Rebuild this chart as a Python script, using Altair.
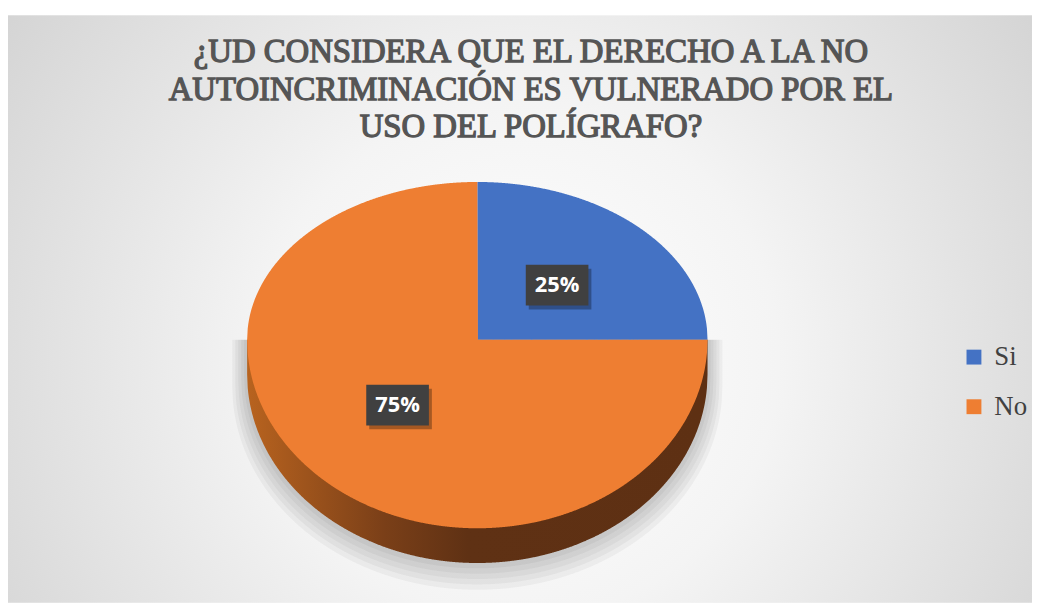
import altair as alt
import numpy as np
import pandas as pd

# ---- data ----
categories = ["Si", "No"]
values = [25, 75]
slice_colors = ["#4472C4", "#EE7E32"]
title_lines = ["¿UD CONSIDERA QUE EL DERECHO A LA NO",
               "AUTOINCRIMINACIÓN ES VULNERADO POR EL",
               "USO DEL POLÍGRAFO?"]

# ---- geometry / style ----
W, H = 1032, 597
CX, CY = 473, 332          # pie centre inside view (px)
RX, RY_TOP, RY_BOT = 232, 159, 190
DEPTH = 35

total = float(sum(values))
shares = [v / total for v in values]
cum = np.cumsum([0] + shares)

def vscale(v):
    return v * RY_TOP if v >= 0 else v * RY_BOT

# top faces of slices, as vertical intervals per x column
us = np.linspace(-1, 1, 801)
face_layers = []
for i, cat in enumerate(categories):
    a_start = 90 - 360 * cum[i]
    span = 360 * shares[i]
    rows = []
    for k, u in enumerate(us):
        h = float(np.sqrt(max(0.0, 1 - u * u)))
        vv = np.linspace(-h, h, 1201)
        ang = np.degrees(np.arctan2(vv, np.full_like(vv, u)))
        inside = np.mod(a_start - ang, 360) <= span + 1e-9
        if not inside.any():
            continue
        sel = vv[inside]
        rows.append({"cat": cat, "x": float(u * RX), "y": vscale(float(sel.max())),
                     "y2": vscale(float(sel.min()))})
    face_layers.append(pd.DataFrame(rows))
faces = pd.concat(face_layers, ignore_index=True)

# side (depth) of the pie
side = pd.DataFrame({"x": us * RX,
                     "y": -np.sqrt(np.clip(1 - us ** 2, 0, None)) * RY_BOT - DEPTH,
                     "y2": 0.0})

# soft shadow
shadow_rows = []
for j, d in enumerate([3, 6, 9, 12, 15]):
    for u in us:
        shadow_rows.append({"g": j, "x": float(u * (RX + d)),
                            "y": float(-np.sqrt(max(0.0, 1 - u * u)) * (RY_BOT + d) - DEPTH - d * 0.8),
                            "y2": 0.0})
shadow = pd.DataFrame(shadow_rows)

# labels
lab_rows = []
for i, cat in enumerate(categories):
    mid = np.radians(90 - 360 * (cum[i] + shares[i] / 2))
    r = 0.49
    xx = r * np.cos(mid) * RX
    yv = r * np.sin(mid)
    yy = yv * (RY_TOP if yv >= 0 else RY_BOT)
    lab_rows.append({"cat": cat, "x": float(xx), "y": float(yy),
                     "label": f"{round(shares[i] * 100)}%"})
labels = pd.DataFrame(lab_rows)

xs = alt.Scale(domain=[-CX, W - CX], nice=False, zero=False)
ys = alt.Scale(domain=[-(H - CY), CY], nice=False, zero=False)
X = lambda: alt.X("x:Q", scale=xs, axis=None)
Y = lambda: alt.Y("y:Q", scale=ys, axis=None, stack=None)

bg = alt.Chart(pd.DataFrame({"a": [0]})).mark_rect(
    color=alt.Gradient(gradient="radial", x1=0.5, y1=0.55, x2=0.5, y2=0.55,
                       r1=0, r2=0.72,
                       stops=[alt.GradientStop(color="#ffffff", offset=0),
                              alt.GradientStop(color="#f4f4f4", offset=0.35),
                              alt.GradientStop(color="#cacaca", offset=1)])
).encode(x=alt.value(0), x2=alt.value(W), y=alt.value(5), y2=alt.value(H))

title = alt.Chart(pd.DataFrame({"a": [0]})).mark_text(
    text=title_lines, font="Liberation Serif", fontWeight="normal",
    fontSize=33, color="#555555", stroke="#555555", strokeWidth=1.3,
    align="center", baseline="top", lineHeight=38
).encode(x=alt.value(527), y=alt.value(26))

shadow_l = alt.Chart(shadow).mark_area(color="#000000", opacity=0.04).encode(
    x=X(), y=Y(), y2="y2:Q", detail="g:N")

side_l = alt.Chart(side).mark_area(
    color=alt.Gradient(gradient="linear", x1=0, y1=0, x2=1, y2=0,
                       stops=[alt.GradientStop(color="#B8631F", offset=0),
                              alt.GradientStop(color="#7A3F18", offset=0.3),
                              alt.GradientStop(color="#5F3114", offset=0.48),
                              alt.GradientStop(color="#5E3013", offset=1)])
).encode(x=X(), y=Y(), y2="y2:Q")

faces_l = alt.Chart(faces).mark_area(opacity=1).encode(
    x=X(), y=Y(), y2="y2:Q",
    color=alt.Color("cat:N", scale=alt.Scale(domain=categories, range=slice_colors),
                    legend=alt.Legend(orient="none", legendX=960, legendY=336,
                                      title=None, symbolType="square", symbolSize=225,
                                      symbolStrokeWidth=0, symbolOpacity=1,
                                      labelFont="Liberation Serif", labelFontSize=27,
                                      labelColor="#404040", rowPadding=22,
                                      labelOffset=7, padding=0))
)

box_path = "M-1.54,-1L1.54,-1L1.54,1L-1.54,1Z"
box_shadow = alt.Chart(labels).mark_point(
    shape=box_path, filled=True, size=1681, color="#000000", opacity=0.3,
    xOffset=3, yOffset=4, strokeWidth=0
).encode(x=X(), y=Y())
box = alt.Chart(labels).mark_point(
    shape=box_path, filled=True, size=1681, color="#404040", opacity=1, strokeWidth=0
).encode(x=X(), y=Y())
text = alt.Chart(labels).mark_text(
    font="Open Sans", fontWeight="bold", fontSize=22, color="#ffffff",
    align="center", baseline="middle"
).encode(x=X(), y=Y(), text="label:N")

chart = alt.layer(bg, title, shadow_l, side_l, faces_l, box_shadow, box, text).properties(
    width=W, height=H, padding=0, autosize=alt.AutoSizeParams(type="none")
).configure_view(stroke=None)

chart.save("out.html", embed_options={"renderer": "svg", "actions": False})
